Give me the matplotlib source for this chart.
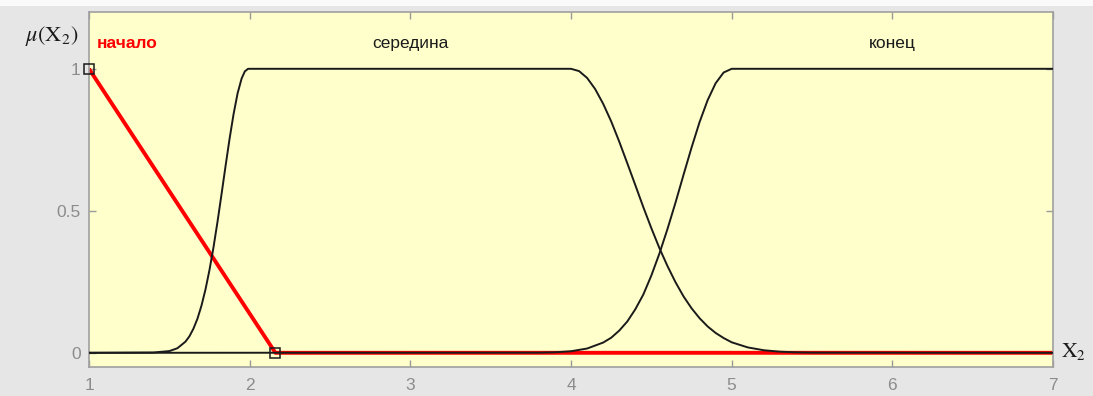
import matplotlib
matplotlib.use("Agg")
import matplotlib.pyplot as plt
from matplotlib.patches import Rectangle

# ---- data ----
nachalo_x = [1.0, 2.16, 7.0]
nachalo_y = [1.0, 0.0, 0.0]
nachalo_marker_x = [1.0, 2.16]
nachalo_marker_y = [1.0, 0.0]

seredina_x = [1.0, 1.40, 1.50, 1.55, 1.60, 1.625, 1.65, 1.675, 1.70, 1.725, 1.75, 1.775, 1.80,
              1.825, 1.85, 1.875, 1.90, 1.925, 1.95, 1.97, 1.99,
              4.0, 4.05, 4.1, 4.15, 4.2, 4.25, 4.3, 4.35, 4.4, 4.45, 4.5, 4.55, 4.6, 4.65, 4.7,
              4.75, 4.8, 4.85, 4.9, 4.95, 5.0, 5.1, 5.2, 5.3, 5.4, 5.5, 7.0]
seredina_y = [0.0, 0.001, 0.006, 0.016, 0.039, 0.058, 0.085, 0.120, 0.166, 0.223, 0.292, 0.372,
              0.462, 0.559, 0.658, 0.754, 0.841, 0.914, 0.966, 0.991, 1.0,
              1.0, 0.992, 0.968, 0.929, 0.877, 0.815, 0.744, 0.668, 0.591, 0.513, 0.439, 0.369,
              0.306, 0.249, 0.199, 0.157, 0.122, 0.093, 0.070, 0.052, 0.037, 0.019, 0.009,
              0.004, 0.0016, 0.0006, 0.0]

konec_x = [1.0, 3.8, 3.9, 4.0, 4.1, 4.2, 4.25, 4.3, 4.35, 4.4, 4.45, 4.5, 4.55, 4.6, 4.65, 4.7,
           4.75, 4.8, 4.85, 4.9, 4.95, 5.0, 7.0]
konec_y = [0.0, 0.0005, 0.0018, 0.0055, 0.015, 0.036, 0.053, 0.078, 0.110, 0.153, 0.205, 0.272,
           0.349, 0.435, 0.528, 0.626, 0.722, 0.812, 0.889, 0.949, 0.987, 1.0, 1.0]

mf_labels = ["начало", "середина", "конец"]
mf_label_x = [1.05, 3.0, 6.0]
x_ticks = [1, 2, 3, 4, 5, 6, 7]
y_ticks = [0, 0.5, 1]
y_tick_labels = ["0", "0.5", "1"]

# ---- figure ----
plt.rcParams['font.family'] = ['Liberation Sans', 'DejaVu Sans']
plt.rcParams['mathtext.fontset'] = 'stix'

W, H = 1093, 396
fig = plt.figure(figsize=(W / 100, H / 100), dpi=100)
fig.patch.set_facecolor('#e6e6e6')
fig.patches.append(Rectangle((0, 1 - 6 / H), 1, 6 / H, transform=fig.transFigure,
                             facecolor='#fafafa', edgecolor='none', zorder=0))

ax = fig.add_axes([89 / W, 29 / H, (1053 - 89) / W, (367 - 12) / H])
ax.set_facecolor('#ffffcc')
ax.set_xlim(1, 7)
ax.set_ylim(-0.05, 1.2)

line_col = '#1a1a1a'
ax.plot(nachalo_x, nachalo_y, color='#ff0000', lw=2.8, zorder=2, solid_capstyle='butt')
ax.plot(seredina_x, seredina_y, color=line_col, lw=1.4, zorder=3)
ax.plot(konec_x, konec_y, color=line_col, lw=1.4, zorder=3)
ax.plot(nachalo_marker_x, nachalo_marker_y, ls='none', marker='s', ms=7,
        mfc='none', mec=line_col, mew=1.1, zorder=4, clip_on=False)

ax.text(mf_label_x[0], 1.09, mf_labels[0], color='#ff0000', fontsize=12.5,
        fontweight='bold', ha='left', va='center')
ax.text(mf_label_x[1], 1.09, mf_labels[1], color='#1a1a1a', fontsize=12.5,
        ha='center', va='center')
ax.text(mf_label_x[2], 1.09, mf_labels[2], color='#1a1a1a', fontsize=12.5,
        ha='center', va='center')

ax.set_xticks(x_ticks)
ax.set_xticklabels([str(t) for t in x_ticks])
ax.set_yticks(y_ticks)
ax.set_yticklabels(y_tick_labels)
ax.tick_params(direction='in', length=5, width=1, color='#999999', labelcolor='#8c8c8c',
               labelsize=12.5, top=True, right=True)
ax.tick_params(axis='x', pad=8)
ax.tick_params(axis='y', pad=6)
for s in ax.spines.values():
    s.set_color('#a0a0a0')
    s.set_linewidth(1.2)

fig.text(52 / W, 1 - 36 / H, r'$\mu(\mathrm{X}_2)$', fontsize=16, ha='center', va='center',
         color='#1a1a1a')
fig.text(1073 / W, 1 - 352 / H, r'$\mathrm{X}_2$', fontsize=15.5, ha='center', va='center',
         color='#1a1a1a')

fig.savefig('out.png', dpi=100, facecolor=fig.get_facecolor())
